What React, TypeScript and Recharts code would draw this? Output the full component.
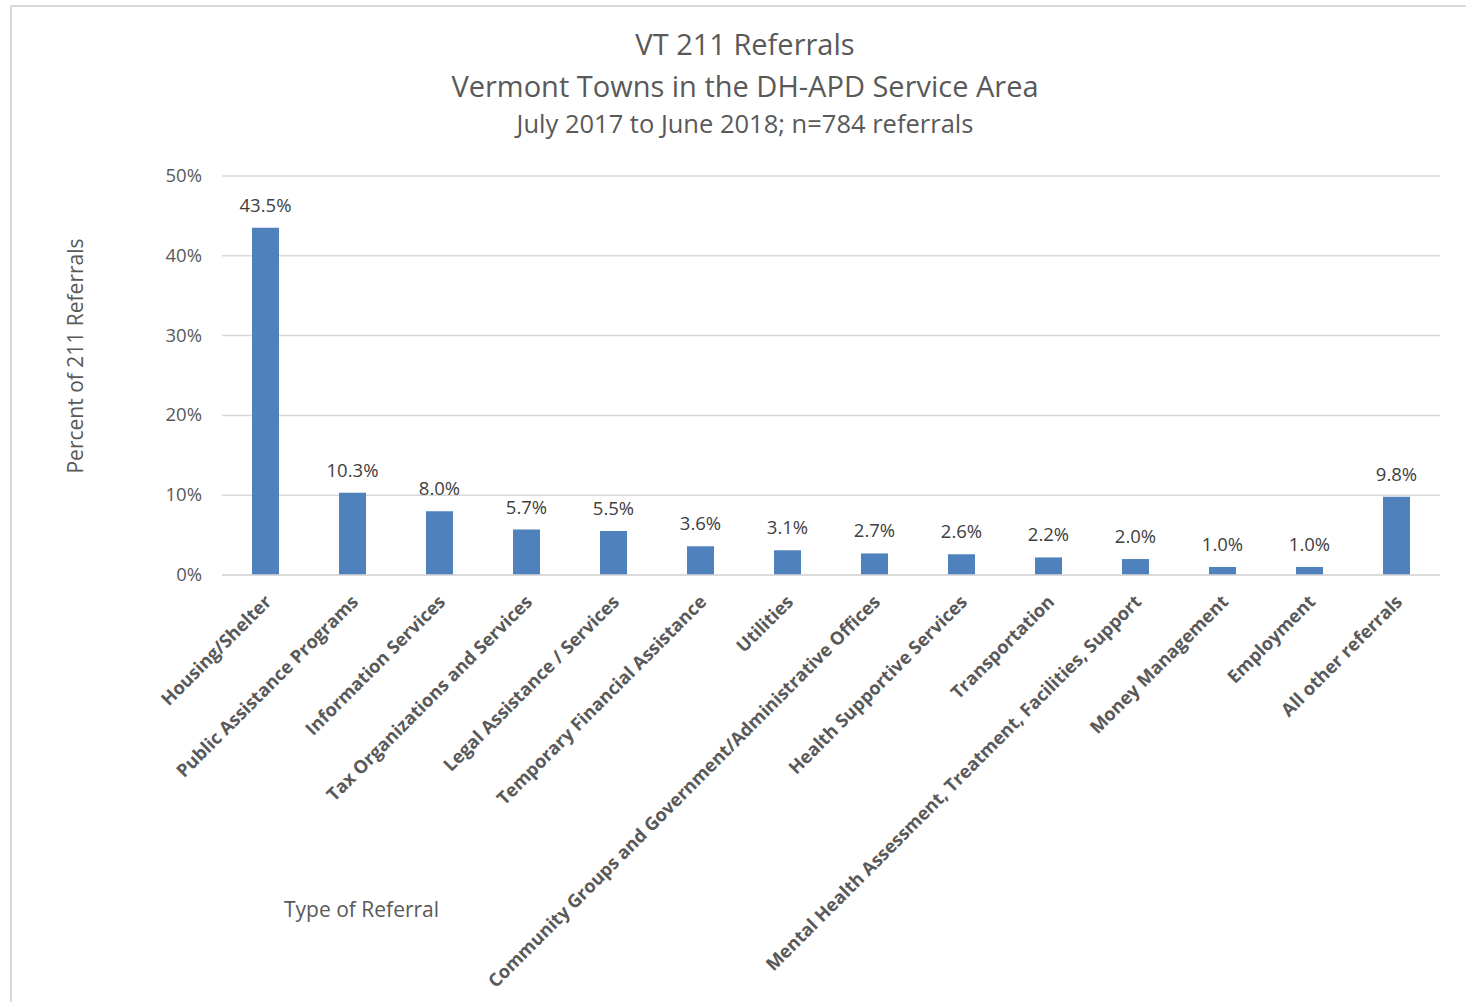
import React from "react";
import { BarChart, Bar, XAxis, YAxis, CartesianGrid, LabelList } from "recharts";

const categories = [
  "Housing/Shelter",
  "Public Assistance Programs",
  "Information Services",
  "Tax Organizations and Services",
  "Legal Assistance / Services",
  "Temporary Financial Assistance",
  "Utilities",
  "Community Groups and Government/Administrative Offices",
  "Health Supportive Services",
  "Transportation",
  "Mental Health Assessment, Treatment, Facilities, Support",
  "Money Management",
  "Employment",
  "All other referrals",
];
const percents = [43.5, 10.3, 8.0, 5.7, 5.5, 3.6, 3.1, 2.7, 2.6, 2.2, 2.0, 1.0, 1.0, 9.8];
const yTicks = [0, 10, 20, 30, 40, 50];

const titleLines = ["VT 211 Referrals", "Vermont Towns in the DH-APD Service Area"];
const subtitle = "July 2017 to June 2018; n=784 referrals";
const yAxisTitle = "Percent of 211 Referrals";
const xAxisTitle = "Type of Referral";

const data = categories.map((c, i) => ({ category: c, value: percents[i] }));

const FONT = "'Open Sans', sans-serif";
const GRAY = "#595959";

const XTick = (props: any) => {
  const { x, y, payload } = props;
  return (
    <text
      x={x + 7}
      y={y + 20}
      transform={`rotate(-45, ${x + 7}, ${y + 20})`}
      textAnchor="end"
      fontFamily={FONT}
      fontWeight={700}
      fontSize={18.2}
      fill={GRAY}
    >
      {payload.value}
    </text>
  );
};

const YTick = (props: any) => {
  const { y, payload } = props;
  return (
    <text x={202} y={y + 6} textAnchor="end" fontFamily={FONT} fontSize={18.5} fill={GRAY}>
      {`${payload.value}%`}
    </text>
  );
};

export default function App() {
  return (
    <div style={{ position: "absolute", left: 0, top: 0, width: 1466, height: 1002, background: "#fff", fontFamily: FONT }}>
      <div
        style={{
          position: "absolute",
          left: 10,
          top: 5,
          width: 1466,
          height: 1010,
          borderTop: "2px solid #d9d9d9",
          borderLeft: "2px solid #d9d9d9",
          boxSizing: "border-box",
        }}
      />
      <div style={{ position: "absolute", left: 0, top: 23, width: 1490, textAlign: "center", color: GRAY, fontSize: 29, lineHeight: "42px" }}>
        {titleLines.map((t) => (
          <div key={t}>{t}</div>
        ))}
        <div style={{ fontSize: 25.5, lineHeight: "32px" }}>{subtitle}</div>
      </div>
      <div
        style={{
          position: "absolute",
          left: 75,
          top: 356,
          transform: "translate(-50%, -50%) rotate(-90deg)",
          whiteSpace: "nowrap",
          color: GRAY,
          fontSize: 21,
        }}
      >
        {yAxisTitle}
      </div>
      <div style={{ position: "absolute", left: 284, top: 895, whiteSpace: "nowrap", color: GRAY, fontSize: 21 }}>{xAxisTitle}</div>
      <div style={{ position: "absolute", left: 0, top: 0 }}>
        <BarChart width={1466} height={1002} data={data} margin={{ top: 176, right: 26, bottom: 0, left: 0 }}>
          <CartesianGrid vertical={false} stroke="#d9d9d9" strokeWidth={1.5} />
          <XAxis
            dataKey="category"
            interval={0}
            height={427}
            tick={<XTick />}
            tickLine={false}
            axisLine={{ stroke: "#d9d9d9", strokeWidth: 1.5 }}
          />
          <YAxis
            width={222}
            domain={[0, 50]}
            ticks={yTicks}
            tick={<YTick />}
            tickLine={false}
            axisLine={false}
          />
          <Bar dataKey="value" fill="#4F81BD" barSize={27} isAnimationActive={false}>
            <LabelList
              dataKey="value"
              position="top"
              offset={16}
              formatter={(v: any) => `${Number(v).toFixed(1)}%`}
              style={{ fontFamily: FONT, fontSize: 18.5, fill: "#404040" }}
            />
          </Bar>
        </BarChart>
      </div>
    </div>
  );
}
